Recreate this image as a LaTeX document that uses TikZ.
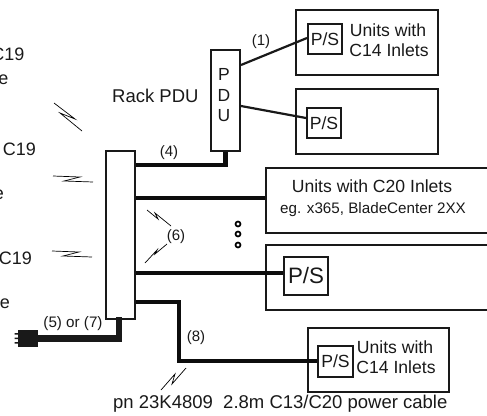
\documentclass[tikz,border=0pt]{standalone}
\usepackage{fontspec}
\setmainfont{Liberation Sans}
\newcommand{\fs}[1]{\fontsize{#1}{#1}\selectfont}
\tikzset{
  x=1pt,y=-1pt,
  framebox/.style={draw=black!90,line width=2pt,inner sep=0pt,anchor=north west},
  psbox/.style={draw=black!90,line width=2pt,inner sep=0pt,anchor=north west,align=center},
  lab/.style={inner sep=0pt,text=black!90,align=center},
  cord/.style={draw=black!90,line width=2.2pt},
  thick cord/.style={draw=black!95,line width=4.2pt},
  bolt/.style={draw=black,line width=0.7pt},
}
\begin{document}
\begin{tikzpicture}
\useasboundingbox (0,0) rectangle (487,415);
% boxes
\node[framebox,minimum width=29pt,minimum height=101pt] (pdu) at (210,49) {};
\node[framebox,minimum width=29pt,minimum height=168pt] (strip) at (105,150) {};
\node[framebox,minimum width=142pt,minimum height=65pt] (u1) at (295,9) {};
\node[framebox,minimum width=142pt,minimum height=65pt] (u2) at (295,88) {};
\node[framebox,minimum width=230pt,minimum height=65pt] (u3) at (265,167) {};
\node[framebox,minimum width=230pt,minimum height=65pt] (u4) at (265,244) {};
\node[framebox,minimum width=141pt,minimum height=64pt] (u5) at (307,327) {};
\node[psbox,minimum width=34pt,minimum height=30pt] (ps1) at (307,23) {};
\node[psbox,minimum width=34pt,minimum height=30pt] (ps2) at (306,107) {};
\node[psbox,minimum width=44pt,minimum height=38pt] (ps4) at (283,256) {};
\node[psbox,minimum width=35pt,minimum height=31pt] (ps5) at (317,345) {};
% connector anchors
\coordinate (plugend) at (37,338.5);
% connectors
\draw[cord] (pdu.east |- 0,65) -- (ps1.west |- 0,38);
\draw[cord] (pdu.east |- 0,106) -- (ps2.west |- 0,118);
\draw[thick cord] (strip.east |- 0,165) -| (pdu.south);
\draw[thick cord] (strip.east |- 0,198) -- (u3.west |- 0,198);
\draw[thick cord] (strip.east |- 0,273) -- (ps4.west |- 0,273);
\draw[thick cord] (strip.east |- 0,302) -- (179,302) -- (179,361) -- (ps5.west |- 0,361);
\draw[draw=black!90,line width=6.5pt] (119,317) -- (119,338.5) -- (plugend);
% plug
\fill[black!90] (18,330) rectangle (38,347);
\fill[black!90] (14.5,333) rectangle (18,334.5) (14.5,337.5) rectangle (18,339) (14.5,342) rectangle (18,343.5);
% dots
\foreach \yy/\nm in {224/a,234/b,245/c}
  \node[circle,draw=black,line width=1.7pt,minimum size=5pt,inner sep=0pt] (dot\nm) at (238,\yy) {};
% bolts
\draw[bolt] (54,103) -- (75,119) -- (60,113) -- (82,131);
\draw[bolt] (53,176) -- (80,177) -- (64,181) -- (93,182);
\draw[bolt] (52,251) -- (79,252) -- (63,256) -- (92,257);
\draw[bolt] (147,210) -- (158,219) -- (155,213) -- (171,226);
\draw[bolt] (167,244) -- (155,254) -- (157,250) -- (145,263);
\draw[bolt] (186,368) -- (172,384) -- (175,374) -- (161,390);
% texts
\node[lab,font=\fs{18.5},anchor=base west] (t1) at (112,102) {Rack PDU};
\node[lab,font=\fs{17.5},anchor=base] (tp) at (224,80) {P};
\node[lab,font=\fs{17.5},anchor=base] (td) at (224,101) {D};
\node[lab,font=\fs{17.5},anchor=base] (tu) at (224,121) {U};
\node[lab,font=\fs{18},anchor=base east] (a1) at (24.5,60) {C19};
\node[lab,font=\fs{18},anchor=base east] (a2) at (8.5,84) {e};
\node[lab,font=\fs{18},anchor=base east] (b1) at (36,155) {C19};
\node[lab,font=\fs{18},anchor=base east] (b2) at (4,199) {e};
\node[lab,font=\fs{18},anchor=base east] (c1) at (32,264) {C19};
\node[lab,font=\fs{18},anchor=base east] (c2) at (10,308) {e};
\node[lab,font=\fs{15},anchor=center] (n4) at (169,153) {(4)};
\node[lab,font=\fs{15},anchor=center] (n1) at (261,42) {(1)};
\node[lab,font=\fs{15},anchor=center] (n6) at (176,237) {(6)};
\node[lab,font=\fs{15},anchor=center] (n8) at (196,338) {(8)};
\node[lab,font=\fs{15.2},anchor=center] (n5) at (73,324) {(5) or (7)};
\node[lab,font=\fs{17.6},anchor=base] at (388,36) {Units with};
\node[lab,font=\fs{17.6},anchor=base] at (389,56) {C14 Inlets};
\node[lab,font=\fs{17.6},anchor=base] at (372,192) {Units with C20 Inlets};
\node[lab,font=\fs{15.2},anchor=base] at (373,213) {eg. x365, BladeCenter 2XX};
\node[lab,font=\fs{17.6},anchor=base] at (395,353) {Units with};
\node[lab,font=\fs{17.6},anchor=base] at (396,373) {C14 Inlets};
\node[lab,font=\fs{17.6},anchor=center] at (ps1.center) {P/S};
\node[lab,font=\fs{17.6},anchor=center] at (ps2.center) {P/S};
\node[lab,font=\fs{22.3},anchor=center] at (ps4.center) {P/S};
\node[lab,font=\fs{17.6},anchor=center] at (ps5.center) {P/S};
\node[lab,font=\fs{18.5},anchor=base west] (cap) at (113,408) {pn 23K4809\ \ 2.8m C13/C20 power cable};
\end{tikzpicture}
\end{document}
